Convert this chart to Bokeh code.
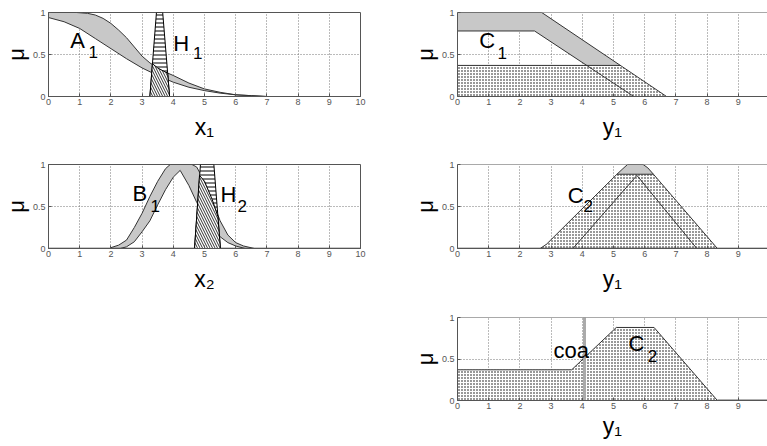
import numpy as np
from bokeh.plotting import figure
from bokeh.layouts import column, row
from bokeh.models import Range1d, FixedTicker, Span, Spacer, NumeralTickFormatter
from bokeh.core.properties import value
from bokeh.embed import file_html
from bokeh.resources import INLINE

FONT = "Liberation Sans"

# ---------------- data ----------------
x_ticks = [0, 1, 2, 3, 4, 5, 6, 7, 8, 9, 10]
grid_x = [1, 2, 3, 4, 5, 6, 7, 8, 9]
y_ticks = [0, 0.5, 1]

# Panel 1: antecedent A1 (FOU) and input H1
a1_up_x = [0, 0.9, 1.25, 1.5, 1.75, 2.0, 2.25, 2.5, 2.75, 3.0, 3.25, 3.5, 3.75, 4.0, 4.5, 5.0, 5.5, 6.0, 6.5, 7.0, 10]
a1_up_y = [1, 1, 0.99, 0.97, 0.93, 0.87, 0.79, 0.70, 0.59, 0.48, 0.40, 0.34, 0.29, 0.25, 0.16, 0.09, 0.05, 0.02, 0.01, 0, 0]
a1_lo_x = [0, 0.5, 1, 1.5, 2, 2.5, 3, 3.5, 4, 4.5, 5, 5.5, 6, 6.5, 7, 10]
a1_lo_y = [0.94, 0.89, 0.81, 0.69, 0.57, 0.45, 0.34, 0.25, 0.17, 0.11, 0.07, 0.04, 0.02, 0.01, 0, 0]
h1_x = [3.25, 3.46, 3.66, 3.88]
h1_y = [0, 1, 1, 0]
h1a1_x = [3.25, 3.33, 3.5, 3.75, 3.82, 3.88]
h1a1_y = [0, 0.39, 0.34, 0.29, 0.28, 0]

# Panel 3: antecedent B1 (FOU) and input H2
b1_up_x = [2.0, 2.25, 2.5, 2.75, 3.0, 3.25, 3.5, 3.75, 3.9, 4.6, 4.75, 5.0, 5.25, 5.5, 5.75, 6.0, 6.25, 6.6]
b1_up_y = [0.01, 0.04, 0.1, 0.25, 0.42, 0.62, 0.8, 0.95, 1, 1, 0.97, 0.8, 0.58, 0.33, 0.16, 0.07, 0.03, 0.0]
b1_lo_x = [2.3, 2.5, 2.75, 3.0, 3.25, 3.5, 3.75, 4.0, 4.22, 4.5, 4.75, 5.0, 5.25, 5.5, 5.75, 6.0, 6.3]
b1_lo_y = [0, 0.02, 0.08, 0.2, 0.33, 0.52, 0.70, 0.85, 0.93, 0.75, 0.55, 0.38, 0.25, 0.14, 0.07, 0.03, 0]
h2_x = [4.68, 4.87, 5.3, 5.51]
h2_y = [0, 1, 1, 0]
h2b1_x = [4.68, 4.84, 5.0, 5.25, 5.43, 5.51]
h2b1_y = [0, 0.87, 0.80, 0.58, 0.38, 0]

# Panel 2: consequent C1 and its firing level
c1_up_x = [0, 2.7, 6.7]
c1_up_y = [1, 1, 0]
c1_lo_x = [0, 2.47, 5.65]
c1_lo_y = [0.78, 0.78, 0]
c1_cut = 0.37

# Panel 4: consequent C2 and its firing level
c2_up_x = [2.65, 2.85, 5.11, 5.3, 5.45, 5.95, 6.1, 6.28, 8.33]
c2_up_y = [0, 0.05, 0.884, 0.95, 1, 1, 0.96, 0.884, 0]
c2_lo_x = [3.7, 5.75, 7.67]
c2_lo_y = [0, 0.87, 0]
c2_cut = 0.884

# Panel 5: aggregated output and centroid
out_x = [0, 3.66, 5.09, 6.3, 8.33, 10]
out_y = [0.37, 0.37, 0.88, 0.88, 0, 0]
coa = 4.07

# in-plot labels: main letter + subscript
lab1 = dict(x=[0.7, 4.0], y=[0.67, 0.63], t=["A", "H"])
sub1 = dict(x=[1.28, 4.63], y=[0.53, 0.52], t=["1", "1"])
lab2 = dict(x=[0.7], y=[0.67], t=["C"])
sub2 = dict(x=[1.28], y=[0.52], t=["1"])
lab3 = dict(x=[2.69, 5.51], y=[0.65, 0.64], t=["B", "H"])
sub3 = dict(x=[3.27, 6.06], y=[0.51, 0.51], t=["1", "2"])
lab4 = dict(x=[3.53], y=[0.63], t=["C"])
sub4 = dict(x=[4.04], y=[0.51], t=["2"])
lab5 = dict(x=[3.08, 5.48], y=[0.60, 0.69], t=["coa", "C"])
sub5 = dict(x=[6.1], y=[0.54], t=["2"])

# ---------------- styling ----------------
LINE = "#333333"
GRAY = "#c8c8c8"
AX = "#555555"
DOT_W = 1.4


def make_fig(width, height, x_end, xlabel, b_top, b_bottom, b_right, label_gap, clipped):
    p = figure(width=width, height=height, x_range=Range1d(0, x_end), y_range=Range1d(0, 1),
               output_backend="svg", toolbar_location=None,
               min_border_left=48, min_border_right=b_right, min_border_top=b_top,
               min_border_bottom=b_bottom)
    p.background_fill_color = "white"
    p.border_fill_color = "white"
    p.outline_line_color = None if clipped else AX
    p.xaxis.ticker = FixedTicker(ticks=x_ticks)
    p.yaxis.ticker = FixedTicker(ticks=y_ticks)
    p.yaxis.formatter = NumeralTickFormatter(format="0.[0]")
    for ax in (p.xaxis[0], p.yaxis[0]):
        ax.axis_line_color = AX
        ax.major_tick_line_color = AX
        ax.major_tick_in = 3
        ax.major_tick_out = 0
        ax.minor_tick_line_color = None
        ax.major_label_text_font = FONT
        ax.major_label_text_font_size = "9px"
        ax.major_label_text_color = "#555555"
        ax.axis_label_text_font = FONT
        ax.axis_label_text_font_style = "normal"
        ax.axis_label_text_color = "black"
    p.xaxis.axis_label = xlabel
    p.xaxis.axis_label_text_font_size = "23px"
    p.xaxis.axis_label_standoff = label_gap
    p.xaxis.major_label_standoff = 2
    p.yaxis.axis_label = "μ"
    p.yaxis.axis_label_text_font_size = "22px"
    p.yaxis.axis_label_standoff = 1
    p.yaxis.major_label_standoff = 3
    p.xgrid.ticker = FixedTicker(ticks=grid_x)
    p.ygrid.ticker = FixedTicker(ticks=[0.5])
    for g in (p.xgrid[0], p.ygrid[0]):
        g.grid_line_color = "#777777"
        g.grid_line_dash = "1 2"
        g.grid_line_width = 1
    if clipped:
        p.add_layout(Span(location=1, dimension="width", line_color=AX, line_width=1))
    return p


def labels(p, lab, sub, size_main="22px", size_sub="17px"):
    p.text(x=lab["x"], y=lab["y"], text=lab["t"], text_font=value(FONT), text_font_size=size_main,
           text_baseline="alphabetic", text_align="left", text_color="black")
    if sub is not None:
        p.text(x=sub["x"], y=sub["y"], text=sub["t"], text_font=value(FONT), text_font_size=size_sub,
               text_baseline="alphabetic", text_align="left", text_color="black")


def cross_desc(xs, ys, level):
    # x where a descending piecewise-linear curve reaches `level`
    return float(np.interp(level, ys[::-1], xs[::-1]))


LW, RW = 409, 358
R_END = 310 / 31.2

# ----- Panel 1 -----
p1 = make_fig(LW, 152, 10, "x₁", 12, 56, 49, 6, False)
p1.patch(a1_up_x + a1_lo_x[::-1], a1_up_y + a1_lo_y[::-1], fill_color=GRAY, line_color=None)
p1.line(a1_up_x, a1_up_y, line_color=LINE, line_width=1)
p1.line(a1_lo_x, a1_lo_y, line_color=LINE, line_width=1)
p1.patch(h1_x, h1_y, fill_color="white", hatch_pattern="horizontal_line", hatch_color="black",
         hatch_scale=4, hatch_weight=1, line_color="black", line_width=1)
p1.patch(h1a1_x, h1a1_y, fill_color="white", hatch_pattern="left_diagonal_line", hatch_color="black",
         hatch_scale=5, hatch_weight=0.8, line_color="black", line_width=1)
labels(p1, lab1, sub1)

# ----- Panel 2 -----
p2 = make_fig(RW, 152, R_END, "y₁", 12, 56, 0, 6, True)
xu = cross_desc(c1_up_x[1:], c1_up_y[1:], c1_cut)
xl = cross_desc(c1_lo_x[1:], c1_lo_y[1:], c1_cut)
fou_x = c1_up_x[:2] + [xu, xl] + c1_lo_x[:2][::-1]
fou_y = c1_up_y[:2] + [c1_cut, c1_cut] + c1_lo_y[:2][::-1]
p2.patch(fou_x, fou_y, fill_color=GRAY, line_color=None)
p2.patch([0, 0, xu, c1_up_x[-1]], [0, c1_cut, c1_cut, 0], fill_color="white", hatch_pattern="dot",
         hatch_color="black", hatch_scale=3, hatch_weight=DOT_W, line_color=None)
p2.line(c1_up_x, c1_up_y, line_color=LINE, line_width=1)
p2.line(c1_lo_x, c1_lo_y, line_color=LINE, line_width=1)
p2.line([0, xu], [c1_cut, c1_cut], line_color=LINE, line_width=1)
labels(p2, lab2, sub2)

# ----- Panel 3 -----
p3 = make_fig(LW, 152, 10, "x₂", 12, 56, 49, 6, False)
p3.patch(b1_up_x + b1_lo_x[::-1], b1_up_y + b1_lo_y[::-1], fill_color=GRAY, line_color=None)
p3.line(b1_up_x, b1_up_y, line_color=LINE, line_width=1)
p3.line(b1_lo_x, b1_lo_y, line_color=LINE, line_width=1)
p3.line([0, 10], [0, 0], line_color=LINE, line_width=1.5)
p3.patch(h2_x, h2_y, fill_color="white", hatch_pattern="horizontal_line", hatch_color="black",
         hatch_scale=4, hatch_weight=1, line_color="black", line_width=1)
p3.patch(h2b1_x, h2b1_y, fill_color="white", hatch_pattern="left_diagonal_line", hatch_color="black",
         hatch_scale=5, hatch_weight=0.8, line_color="black", line_width=1)
labels(p3, lab3, sub3)

# ----- Panel 4 -----
p4 = make_fig(RW, 152, R_END, "y₁", 12, 56, 0, 6, True)
cap_x = [x for x, y in zip(c2_up_x, c2_up_y) if y >= c2_cut]
cap_y = [y for y in c2_up_y if y >= c2_cut]
p4.patch(cap_x, cap_y, fill_color=GRAY, line_color=None)
cut_x = [x for x, y in zip(c2_up_x, c2_up_y) if y <= c2_cut]
cut_y = [y for y in c2_up_y if y <= c2_cut]
p4.patch(cut_x, cut_y, fill_color="white", hatch_pattern="dot", hatch_color="black",
         hatch_scale=3, hatch_weight=DOT_W, line_color=None)
p4.line(c2_up_x, c2_up_y, line_color=LINE, line_width=1)
p4.line(c2_lo_x, c2_lo_y, line_color=LINE, line_width=1)
p4.line([cap_x[0], cap_x[-1]], [c2_cut, c2_cut], line_color=LINE, line_width=1)
p4.line([0, 10], [0, 0], line_color=LINE, line_width=1.5)
labels(p4, lab4, sub4)

# ----- Panel 5 -----
p5 = make_fig(RW, 142, R_END, "y₁", 13, 46, 0, 1, True)
p5.patch([0] + out_x[:5], [0] + out_y[:5], fill_color="white", hatch_pattern="dot", hatch_color="black",
         hatch_scale=3, hatch_weight=DOT_W, line_color=None)
p5.line(out_x[:5], out_y[:5], line_color=LINE, line_width=1)
p5.line(out_x[4:], out_y[4:], line_color="#999999", line_width=2.5)
p5.segment(x0=[coa], y0=[0], x1=[coa], y1=[1], line_color="#aaaaaa", line_width=3)
labels(p5, lab5, sub5, size_main="22px")

layout = column(row(p1, p2), row(p3, p4), row(Spacer(width=LW, height=142), p5))

open("out.html", "w").write(file_html(layout, INLINE))
